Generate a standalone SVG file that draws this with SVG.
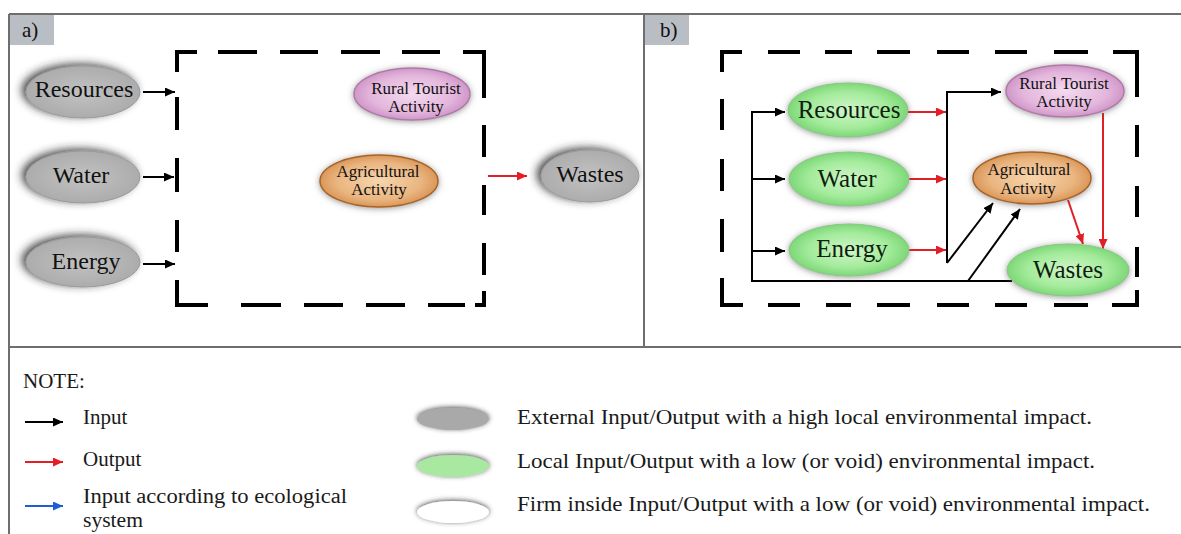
<svg xmlns="http://www.w3.org/2000/svg" width="1181" height="534" viewBox="0 0 1181 534">
<defs>
<style>
.frame{stroke:#6e6e6e;stroke-width:2;fill:none}
.lab{fill:#b9bdc4}
.dash{stroke:#000;stroke-width:4;fill:none;stroke-linecap:butt}
.t{font-family:"Liberation Serif","DejaVu Serif",serif;fill:#111}
.big{font-size:24px;text-anchor:middle}
.bigb{font-size:25px;text-anchor:middle;fill:#0d1f0d}
.sm{font-size:17px;text-anchor:middle}
.leg{font-size:21px;fill:#1a1a1a}
.leg2{font-size:20px;fill:#1a1a1a}
.blk{stroke:#000;stroke-width:2;fill:none}
.red{stroke:#e31e24;stroke-width:2;fill:none}
.blu{stroke:#1c5fd4;stroke-width:2;fill:none}
</style>
<marker id="ab" markerUnits="userSpaceOnUse" markerWidth="11" markerHeight="9" refX="10" refY="4.5" orient="auto"><path d="M0,0 L10,4.5 L0,9 z" fill="#000"/></marker>
<marker id="ar" markerUnits="userSpaceOnUse" markerWidth="11" markerHeight="9" refX="10" refY="4.5" orient="auto"><path d="M0,0 L10,4.5 L0,9 z" fill="#e31e24"/></marker>
<marker id="au" markerUnits="userSpaceOnUse" markerWidth="11" markerHeight="9" refX="10" refY="4.5" orient="auto"><path d="M0,0 L10,4.5 L0,9 z" fill="#1c5fd4"/></marker>
<radialGradient id="gGray" cx="50%" cy="50%" r="55%"><stop offset="0" stop-color="#c2c2c2"/><stop offset="1" stop-color="#aaaaaa"/></radialGradient>
<radialGradient id="gGreen" cx="50%" cy="50%" r="55%"><stop offset="0" stop-color="#cff6c8"/><stop offset="0.6" stop-color="#a4eb9c"/><stop offset="1" stop-color="#72d26c"/></radialGradient>
<radialGradient id="gPink" cx="50%" cy="50%" r="55%"><stop offset="0" stop-color="#f4daef"/><stop offset="0.65" stop-color="#e3b6dc"/><stop offset="1" stop-color="#c98cc1"/></radialGradient>
<radialGradient id="gOrange" cx="50%" cy="50%" r="55%"><stop offset="0" stop-color="#f7d6ad"/><stop offset="0.65" stop-color="#eab580"/><stop offset="1" stop-color="#d48d4b"/></radialGradient>
<filter id="shDark" x="-30%" y="-50%" width="160%" height="200%">
<feGaussianBlur in="SourceAlpha" stdDeviation="4"/>
<feOffset dx="-4" dy="-2" result="b"/>
<feFlood flood-color="#2a2a2a" flood-opacity="0.85"/>
<feComposite in2="b" operator="in"/>
<feMerge><feMergeNode/><feMergeNode in="SourceGraphic"/></feMerge>
</filter>
<filter id="shSoft" x="-30%" y="-50%" width="160%" height="200%">
<feGaussianBlur in="SourceAlpha" stdDeviation="3"/>
<feOffset dx="0" dy="1" result="b"/>
<feFlood flood-color="#555" flood-opacity="0.6"/>
<feComposite in2="b" operator="in"/>
<feMerge><feMergeNode/><feMergeNode in="SourceGraphic"/></feMerge>
</filter>
<filter id="shLeg" x="-30%" y="-80%" width="160%" height="260%">
<feGaussianBlur in="SourceAlpha" stdDeviation="2.5"/>
<feOffset dx="0" dy="-1" result="b"/>
<feFlood flood-color="#333" flood-opacity="0.85"/>
<feComposite in2="b" operator="in"/>
<feMerge><feMergeNode/><feMergeNode in="SourceGraphic"/></feMerge>
</filter>
</defs>
<rect width="1181" height="534" fill="#fff"/>

<g id="frame">
<path class="frame" d="M9 14 H1181 M9 14 V534 M644 14 V347 M9 347 H1181"/>
<rect class="lab" x="10" y="15" width="44" height="30"/>
<rect class="lab" x="645" y="15" width="44" height="30"/>
<text class="t" x="22" y="37" font-size="21">a)</text>
<text class="t" x="660" y="37" font-size="21">b)</text>
</g>

<g id="boundary-a">
<path class="dash" d="M197 52 H177 V72 M218 52 H257 M280 52 H318 M341 52 H380 M402 52 H440 M463 52 H484 V98 M177 97 V130 M177 158 V192 M177 220 V252 M177 280 V305 H208 M241 305 H281 M304 305 H343 M366 305 H405 M428 305 H465 M475 305 H484 V291 M484 125 V157 M484 185 V215 M484 243 V275"/>
</g>
<g id="boundary-b">
<path class="dash" d="M742 52 H722 V72 M768 52 H800 M825 52 H852 M877 52 H910 M937 52 H969 M995 52 H1027 M1054 52 H1088 M1113 52 H1137 V97 M722 99 V130 M722 159 V191 M722 219 V252 M722 278 V305 H743 M768 305 H800 M826 305 H851 M877 305 H910 M937 305 H969 M995 305 H1027 M1054 305 H1088 M1112 305 H1137 V290 M1137 125 V157 M1137 186 V217 M1137 247 V277"/>
</g>

<g id="connectors">
<path class="blk" d="M143 92 H175" marker-end="url(#ab)"/>
<path class="blk" d="M143 177 H174" marker-end="url(#ab)"/>
<path class="blk" d="M143 264 H175" marker-end="url(#ab)"/>
<path class="red" d="M488 176 H527" marker-end="url(#ar)"/>
<path class="blk" d="M1012 281 H752 V112 H785" marker-end="url(#ab)"/>
<path class="blk" d="M752 179 H785" marker-end="url(#ab)"/>
<path class="blk" d="M752 251 H785" marker-end="url(#ab)"/>
<path class="red" d="M908 112 H946" marker-end="url(#ar)"/>
<path class="red" d="M908 179 H946" marker-end="url(#ar)"/>
<path class="red" d="M908 250 H946" marker-end="url(#ar)"/>
<path class="blk" d="M947 263 V92 H1001" marker-end="url(#ab)"/>
<path class="blk" d="M947 263 L993 203" marker-end="url(#ab)"/>
<path class="blk" d="M968 281 L1020 209" marker-end="url(#ab)"/>
<path class="red" d="M1103 113 V249" marker-end="url(#ar)"/>
<path class="red" d="M1068 200 L1083 244" marker-end="url(#ar)"/>
</g>

<g id="a-resources"><ellipse cx="83" cy="92" rx="57" ry="26" fill="url(#gGray)" stroke="#9a9a9a" filter="url(#shDark)"/><text class="t big" x="84" y="97">Resources</text></g>
<g id="a-water"><ellipse cx="83" cy="177" rx="57" ry="26" fill="url(#gGray)" stroke="#9a9a9a" filter="url(#shDark)"/><text class="t big" x="81" y="183">Water</text></g>
<g id="a-energy"><ellipse cx="83" cy="262" rx="57" ry="25" fill="url(#gGray)" stroke="#9a9a9a" filter="url(#shDark)"/><text class="t big" x="86" y="269">Energy</text></g>
<g id="a-wastes"><ellipse cx="590" cy="176" rx="49" ry="26" fill="url(#gGray)" stroke="#9a9a9a" filter="url(#shDark)"/><text class="t big" x="590" y="182">Wastes</text></g>
<g id="a-rural"><ellipse cx="412" cy="94" rx="58" ry="26" fill="url(#gPink)" stroke="#b07aa8" stroke-width="1.5" filter="url(#shSoft)"/><text class="t sm" x="416" y="94" fill="#3c1f3a">Rural Tourist</text><text class="t sm" x="416" y="112" fill="#3c1f3a">Activity</text></g>
<g id="a-agri"><ellipse cx="379" cy="181" rx="59" ry="26" fill="url(#gOrange)" stroke="#a86428" stroke-width="1.5" filter="url(#shSoft)"/><text class="t sm" x="378" y="177" fill="#3a2410">Agricultural</text><text class="t sm" x="379" y="195" fill="#3a2410">Activity</text></g>

<g id="b-resources"><ellipse cx="848" cy="110" rx="60" ry="27" fill="url(#gGreen)" stroke="#8cc48a" filter="url(#shSoft)"/><text class="t bigb" x="849" y="118">Resources</text></g>
<g id="b-water"><ellipse cx="849" cy="179" rx="60" ry="27" fill="url(#gGreen)" stroke="#8cc48a" filter="url(#shSoft)"/><text class="t bigb" x="847" y="187">Water</text></g>
<g id="b-energy"><ellipse cx="849" cy="250" rx="60" ry="26" fill="url(#gGreen)" stroke="#8cc48a" filter="url(#shSoft)"/><text class="t bigb" x="852" y="257">Energy</text></g>
<g id="b-wastes"><ellipse cx="1068" cy="270" rx="61" ry="26" fill="url(#gGreen)" stroke="#8cc48a" filter="url(#shSoft)"/><text class="t bigb" x="1068" y="278">Wastes</text></g>
<g id="b-rural"><ellipse cx="1065" cy="91" rx="59" ry="26" fill="url(#gPink)" stroke="#b07aa8" stroke-width="1.5" filter="url(#shSoft)"/><text class="t sm" x="1064" y="89" fill="#3c1f3a">Rural Tourist</text><text class="t sm" x="1064" y="107" fill="#3c1f3a">Activity</text></g>
<g id="b-agri"><ellipse cx="1032" cy="178" rx="59" ry="26" fill="url(#gOrange)" stroke="#a86428" stroke-width="1.5" filter="url(#shSoft)"/><text class="t sm" x="1029" y="175" fill="#3a2410">Agricultural</text><text class="t sm" x="1028" y="194" fill="#3a2410">Activity</text></g>

<g id="legend">
<text class="t leg" x="23" y="388">NOTE:</text>
<path class="blk" d="M25 422 H63" marker-end="url(#ab)"/>
<path class="red" d="M25 462 H63" marker-end="url(#ar)"/>
<path class="blu" d="M25 506 H63" marker-end="url(#au)"/>
<text class="t leg" x="83" y="424">Input</text>
<text class="t leg" x="83" y="466">Output</text>
<text class="t leg2" x="83" y="503" textLength="264" lengthAdjust="spacingAndGlyphs">Input according to ecological</text>
<text class="t leg2" x="83" y="527" textLength="60" lengthAdjust="spacingAndGlyphs">system</text>
<ellipse cx="453" cy="419" rx="36" ry="11" fill="#a9a9a9" filter="url(#shLeg)"/>
<ellipse cx="453" cy="466" rx="36" ry="11" fill="#a8e8a0" filter="url(#shLeg)"/>
<ellipse cx="453" cy="512" rx="36" ry="11" fill="#ffffff" filter="url(#shLeg)"/>
<text class="t leg" x="517" y="424" textLength="575" lengthAdjust="spacingAndGlyphs">External Input/Output with a high local environmental impact.</text>
<text class="t leg" x="517" y="468" textLength="578" lengthAdjust="spacingAndGlyphs">Local Input/Output with a low (or void) environmental impact.</text>
<text class="t leg" x="517" y="511" textLength="633" lengthAdjust="spacingAndGlyphs">Firm inside Input/Output with a low (or void) environmental impact.</text>
</g>
</svg>
